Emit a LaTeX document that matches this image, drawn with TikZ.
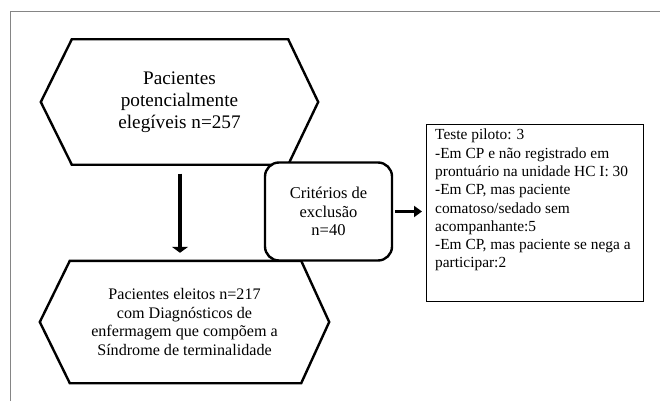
\documentclass[tikz,border=0pt]{standalone}
\usepackage{fontspec}
\setmainfont{Liberation Serif}
\usetikzlibrary{arrows.meta}
\begin{document}
\begin{tikzpicture}[x=1pt,y=-1pt,
  hexbox/.style={draw=none,inner sep=0pt,align=center},
  hexline/.style={line width=2.4pt,line join=miter},
  critbox/.style={draw,line width=2.4pt,rounded corners=14pt,fill=white,inner sep=0pt,
    minimum width=127pt,minimum height=98pt,align=center,
    font=\fontsize{16.5}{18.7}\selectfont},
  listbox/.style={draw,line width=1.3pt,inner sep=0pt,minimum width=217pt,minimum height=177pt},
  listtext/.style={inner sep=0pt,align=left,anchor=north west,
    font=\fontsize{15.4}{18.3}\selectfont},
  frameline/.style={draw=black!48,line width=1.5pt},
  bigarrow/.style={line width=4pt,-{Triangle[length=6pt,width=16pt]}},
  smallarrow/.style={line width=2.5pt,-{Triangle[length=8pt,width=11pt]}}
]
\useasboundingbox (0,0) rectangle (660,401);
\fill[white] (0,0) rectangle (660,401);
% frame
\draw[frameline] (10.5,401) -- (10.5,11.5) -- (660,11.5);

% top hexagon
\node[hexbox,minimum width=277pt,minimum height=125pt,
  font=\fontsize{19.2}{22}\selectfont] (top) at (179.5,102)
  {Pacientes\\potencialmente\\elegíveis n=257};
\draw[hexline] (top.west) -- ([xshift=31pt]top.north west) -- ([xshift=-30pt]top.north east)
  -- (top.east) -- ([xshift=-30pt]top.south east) -- ([xshift=31pt]top.south west) -- cycle;

% bottom hexagon
\node[hexbox,minimum width=289pt,minimum height=122pt,
  font=\fontsize{16.1}{18.7}\selectfont] (bot) at (184.5,322)
  {Pacientes eleitos n=217\\com Diagnósticos de\\enfermagem que compõem a\\Síndrome de terminalidade};
\draw[hexline] (bot.west) -- ([xshift=30pt]bot.north west) -- ([xshift=-28pt]bot.north east)
  -- (bot.east) -- ([xshift=-28pt]bot.south east) -- ([xshift=30pt]bot.south west) -- cycle;

% exclusion box
\node[critbox] (crit) at (328.5,211.5) {Critérios de\\exclusão\\n=40};

% list box
\node[listbox,anchor=north west] (rbox) at (426,124) {};
\node[listtext] (rtext) at ([xshift=9pt,yshift=-5pt]rbox.north west)
  {Teste piloto: 3\\
   -Em CP e não registrado em\\
   prontuário na unidade HC I: 30\\
   -Em CP, mas paciente\\
   comatoso/sedado sem\\
   acompanhante:5\\
   -Em CP, mas paciente se nega a\\
   participar:2};

% arrows
\draw[bigarrow] ([yshift=-9pt]top.south -| 180,0) -- ([yshift=8pt]bot.north -| 180,0);
\draw[smallarrow,shorten <=2pt,shorten >=4pt] (crit.east) -- (crit.east -| rbox.west);
\end{tikzpicture}
\end{document}
